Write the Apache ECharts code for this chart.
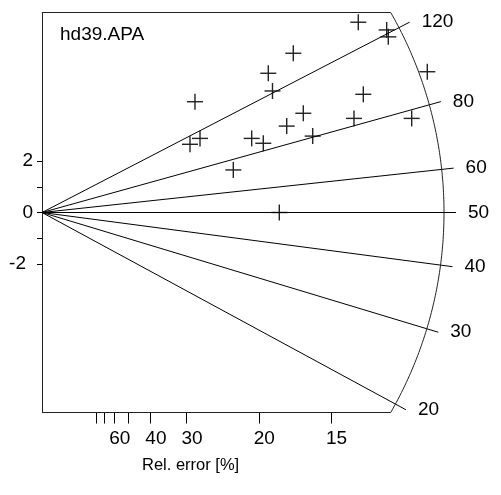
<!DOCTYPE html>
<html>
<head>
<meta charset="utf-8">
<script src="https://cdn.jsdelivr.net/npm/echarts@6/dist/echarts.min.js"></script>
<style>
html,body{margin:0;padding:0;background:#fff;}
#chart{width:501px;height:495px;}
</style>
</head>
<body>
<div id="chart"></div>
<script>
// ---- data ----
const sampleName = 'hd39.APA';
const centralAge = 50;
const ageLabels = [20, 30, 40, 50, 60, 80, 120];
// precision (1/sigma) and standardised estimate of each grain
const precision = [3.529, 3.414, 3.645, 4.413, 4.837, 5.105, 5.220, 5.317, 5.797, 5.645,
                   6.028, 6.245, 7.296, 7.951, 7.988, 8.888, 7.412, 7.197, 8.528, 5.474];
const zScore    = [4.32, 2.66, 2.89, 1.66, 2.89, 2.70, 5.43, 4.74, 6.21, 3.37,
                   3.87, 2.98, 7.42, 7.12, 6.85, 5.49, 4.61, 3.67, 3.67, 0.00];
const relErrTicks = [80, 70, 60, 50, 40, 30, 20, 15];
const relErrLabels = [60, 40, 30, 20, 15];
const yTicks = [-2, -1, 0, 1, 2];
const yLabels = [-2, 0, 2];
const xTitle = 'Rel. error [%]';

// ---- layout ----
const FONT = 'Liberation Sans';
const GRID_L = 42, GRID_T = 12.5, GRID_W = 433.5, GRID_H = 400;
const X_MAX = 10, Y_MIN = -7.8, Y_MAX = 7.8;
const sx = GRID_W / X_MAX, sy = GRID_H / (Y_MAX - Y_MIN);
const ARC_R = 402, RAY_R = 414;

// arc (circle in screen space)
const arc = [];
const dyMax = Y_MAX * sy;
for (let i = 0; i <= 120; i++) {
  const dy = dyMax - (2 * dyMax) * i / 120;
  const dx = Math.sqrt(ARC_R * ARC_R - dy * dy);
  arc.push([dx / sx, dy / sy]);
}
const xArcEdge = Math.sqrt(ARC_R * ARC_R - dyMax * dyMax) / sx;

const series = [];
// radial age lines
ageLabels.forEach(a => {
  const s = Math.log(a / centralAge);
  const xe = RAY_R / Math.sqrt(sx * sx + s * s * sy * sy);
  series.push({
    type: 'line', data: [[0, 0], [xe, xe * s]], symbol: 'none', silent: true,
    lineStyle: {color: '#000', width: 1}, animation: false, clip: false,
    endLabel: {show: true, formatter: String(a), distance: 12, fontSize: 19,
               fontFamily: FONT, color: '#000'}
  });
});
// arc and box edges
series.push({type: 'line', data: arc, symbol: 'none', silent: true, animation: false,
  lineStyle: {color: '#222', width: 1}});
series.push({type: 'line', data: [[0, Y_MAX], [xArcEdge, Y_MAX]], symbol: 'none', silent: true,
  animation: false, lineStyle: {color: '#222', width: 1}});
series.push({type: 'line', data: [[0, Y_MIN], [xArcEdge, Y_MIN]], symbol: 'none', silent: true,
  animation: false, lineStyle: {color: '#222', width: 1}});
// crosses
series.push({
  type: 'custom', animation: false, silent: true,
  data: precision.map((p, i) => [p, zScore[i]]),
  renderItem: function (params, api) {
    const c = api.coord([api.value(0), api.value(1)]);
    const h = 8;
    const st = {stroke: '#222', lineWidth: 1.4};
    return {type: 'group', children: [
      {type: 'line', shape: {x1: c[0] - h, y1: c[1], x2: c[0] + h, y2: c[1]}, style: st},
      {type: 'line', shape: {x1: c[0], y1: c[1] - h, x2: c[0], y2: c[1] + h}, style: st}
    ]};
  }
});

const chart = echarts.init(document.getElementById('chart'), null, {renderer: 'canvas'});
chart.setOption({
  backgroundColor: '#fff',
  animation: false,
  title: {text: sampleName, left: 60, top: 25, padding: 0,
    textStyle: {fontSize: 19, fontWeight: 'normal', color: '#000', fontFamily: FONT}},
  grid: {left: GRID_L, top: GRID_T, width: GRID_W, height: GRID_H, containLabel: false,
         outerBoundsMode: 'none'},
  xAxis: {
    type: 'value', min: 0, max: X_MAX, position: 'bottom',
    axisLine: {show: false, onZero: false},
    splitLine: {show: false},
    axisTick: {show: true, length: 11, lineStyle: {color: '#000'},
      customValues: relErrTicks.map(r => 100 / r)},
    axisLabel: {show: true, margin: 17, fontSize: 19, fontFamily: FONT, color: '#000',
      padding: [0, 0, 0, 11],
      customValues: relErrLabels.map(r => 100 / r),
      formatter: v => String(Math.round(100 / v))}
  },
  yAxis: {
    type: 'value', min: Y_MIN, max: Y_MAX,
    axisLine: {show: true, onZero: false, lineStyle: {color: '#222', width: 1}},
    splitLine: {show: false},
    axisTick: {show: true, length: 5, lineStyle: {color: '#000'}, customValues: yTicks},
    axisLabel: {show: true, margin: 9, fontSize: 19, fontFamily: FONT, color: '#000',
      customValues: yLabels,
      formatter: v => v < 0 ? '{n|' + v + '}' : String(v),
      rich: {n: {fontSize: 19, fontFamily: FONT, color: '#000', padding: [0, 7, 0, 0]}}}
  },
  graphic: [{type: 'text', left: 142, top: 457,
    style: {text: xTitle, fontSize: 16.5, fontFamily: FONT, fill: '#000'}}],
  series: series
});
</script>
</body>
</html>
